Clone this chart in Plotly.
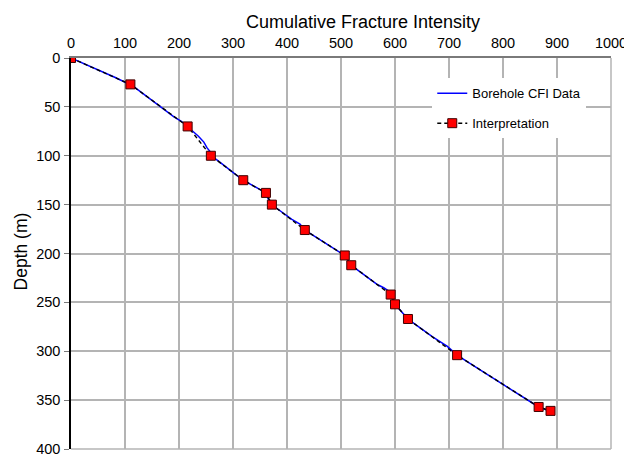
import plotly.graph_objects as go

# Borehole CFI data (blue line)
cfi_depth = [0, 5, 10, 15, 20, 25, 27, 30, 35, 40, 45, 50, 55, 60, 65, 70, 75, 80, 86, 92, 96,
             100, 105, 110, 115, 118, 120, 125, 130, 135, 138, 144, 150, 155, 160, 165, 170, 176,
             181, 186, 191, 196, 202, 207, 212, 217, 222, 227, 232, 235, 238, 242, 247,
             252, 260, 267, 275, 285, 295, 304, 315, 325, 335, 345, 357, 360]
cfi_value = [0, 21, 41, 61, 82, 101, 110, 118, 130, 143, 154, 166, 177, 190, 205, 216, 227, 236, 246, 252, 258,
             260, 272, 283, 295, 302, 307, 319, 335, 351, 361, 365, 372, 384, 396, 409, 424, 433,
             447, 461, 476, 490, 507, 513, 519, 531, 543, 556, 568, 579, 587, 592, 597,
             600, 613, 624, 644, 669, 697, 715, 746, 775, 803, 832, 866, 880]

# Interpretation (dashed black with red squares)
int_depth = [0, 27, 70, 100, 125, 138, 150, 176, 202, 212, 242, 252, 267, 304, 357, 361]
int_value = [0, 110, 216, 259, 319, 361, 372, 433, 507, 519, 592, 600, 624, 715, 866, 888]

x_ticks = [0, 100, 200, 300, 400, 500, 600, 700, 800, 900, 1000]
y_ticks = [0, 50, 100, 150, 200, 250, 300, 350, 400]

FONT = "Liberation Sans, Arial, sans-serif"

fig = go.Figure()
fig.add_trace(go.Scatter(
    x=cfi_value, y=cfi_depth, mode="lines", name="Borehole CFI Data",
    legendgroup="a",
    line=dict(color="#0000ff", width=1.5)))
fig.add_trace(go.Scatter(
    x=int_value, y=int_depth, mode="lines+markers", name="Interpretation",
    legendgroup="b",
    line=dict(color="black", width=1.4, dash="4px,3px"),
    marker=dict(symbol="square", size=9, color="#ff0000",
                line=dict(color="#400000", width=1))))

# page body has an 8px default margin, so the figure is sized 8px smaller
fig.update_layout(
    width=624, height=446,
    margin=dict(l=63, r=21, t=50, b=5, autoexpand=False),
    paper_bgcolor="white", plot_bgcolor="white",
    font=dict(family=FONT, size=14.5, color="black"),
    xaxis=dict(
        side="top", range=[0, 1000], tickvals=x_ticks,
        showgrid=True, gridcolor="#b4b4b4", gridwidth=1.5,
        showline=True, linecolor="#7a7a7a", linewidth=1.5,
        ticks="", zeroline=False, automargin=False,
        ticklabeloverflow="allow", ticklabelstandoff=2,
        tickfont=dict(size=14.5)),
    yaxis=dict(
        range=[400, 0], tickvals=y_ticks,
        showgrid=True, gridcolor="#b4b4b4", gridwidth=1.5,
        showline=True, linecolor="black", linewidth=1.5,
        ticks="outside", ticklen=5, tickcolor="#7a7a7a", zeroline=False, automargin=False,
        ticklabeloverflow="allow", ticklabelstandoff=1,
        tickfont=dict(size=14.5)),
    legend=dict(
        x=0.669, y=0.948, xanchor="left", yanchor="top",
        bgcolor="white", borderwidth=0,
        font=dict(family=FONT, size=13),
        tracegroupgap=10, itemwidth=30),
    showlegend=True,
    annotations=[
        dict(text="Cumulative Fracture Intensity", xref="paper", yref="paper",
             x=0.541, y=1.0908, xanchor="center", yanchor="middle",
             showarrow=False, font=dict(family=FONT, size=18)),
        dict(text="Depth (m)", xref="paper", yref="paper",
             x=-0.092, y=0.506, xanchor="center", yanchor="middle",
             textangle=-90, showarrow=False, font=dict(family=FONT, size=17.5)),
    ],
)

# right and bottom frame lines (grey like the grid)
fig.add_shape(type="line", xref="paper", yref="paper", x0=1, x1=1, y0=0, y1=1,
              line=dict(color="#b4b4b4", width=1.5))
fig.add_shape(type="line", xref="paper", yref="paper", x0=0, x1=1, y0=0, y1=0,
              line=dict(color="#b4b4b4", width=1.5))

fig.write_html("out.html")
